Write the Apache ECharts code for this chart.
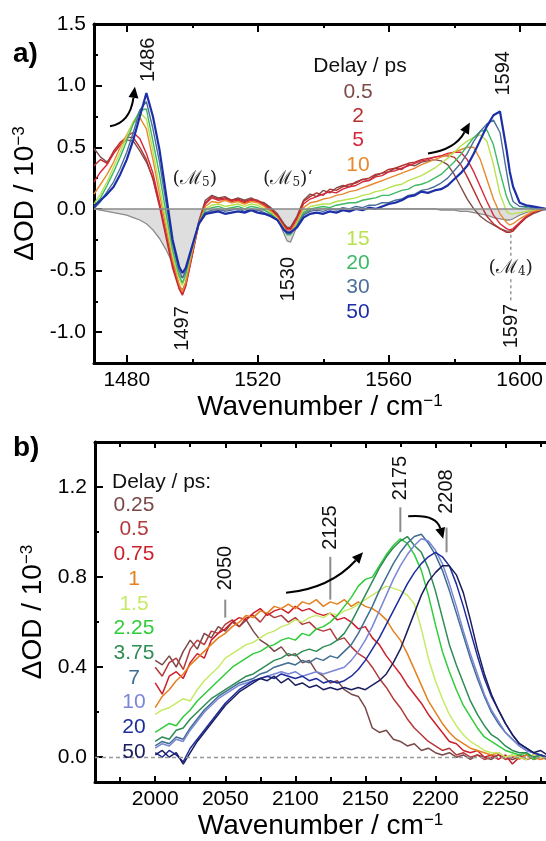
<!DOCTYPE html>
<html>
<head>
<meta charset="utf-8">
<script src="https://cdn.jsdelivr.net/npm/echarts@6.0.0/dist/echarts.min.js"></script>
<style>
html, body { margin: 0; padding: 0; background: #fff; }
#main { width: 546px; height: 841px; }
</style>
</head>
<body>
<div id="main"></div>
<script>
// ---------- panel a: 1470-1608 cm-1 ----------
var waveA = [1470,1472,1474,1476,1478,1480,1482,1484,1486,1488,
  1490,1492,1494,1496,1497,1498,1500,1502,1504,1506,
  1508,1510,1512,1514,1516,1518,1520,1522,1524,1526,
  1528,1529,1530,1532,1534,1536,1538,1540,1542,1544,
  1546,1548,1550,1552,1554,1556,1558,1560,1562,1564,
  1566,1568,1570,1572,1574,1576,1578,1580,1582,1584,
  1586,1588,1590,1592,1594,1596,1597,1598,1600,1602,
  1604,1606,1608];

var a05 = [0.49,0.42,0.38,0.45,0.52,0.56,0.55,0.47,0.38,0.25,
  0.04,-0.20,-0.45,-0.62,-0.66,-0.60,-0.36,-0.10,0.07,0.11,
  0.09,0.10,0.07,0.09,0.07,0.09,0.06,0.05,0.01,-0.04,
  -0.12,-0.15,-0.15,-0.06,0.07,0.12,0.10,0.15,0.13,0.17,
  0.19,0.18,0.22,0.24,0.23,0.27,0.29,0.30,0.33,0.32,
  0.36,0.35,0.38,0.39,0.40,0.39,0.36,0.28,0.18,0.08,
  0.00,-0.06,-0.10,-0.13,-0.16,-0.18,-0.18,-0.17,-0.12,-0.07,
  -0.04,-0.02,0.00];
var a2 = [0.35,0.40,0.37,0.47,0.54,0.58,0.58,0.50,0.40,0.24,
  0.02,-0.23,-0.48,-0.65,-0.70,-0.63,-0.38,-0.12,0.05,0.10,
  0.08,0.09,0.07,0.08,0.06,0.08,0.07,0.04,0.00,-0.05,
  -0.13,-0.16,-0.16,-0.07,0.06,0.10,0.13,0.11,0.16,0.15,
  0.18,0.20,0.21,0.24,0.25,0.28,0.29,0.32,0.33,0.35,
  0.37,0.38,0.40,0.41,0.42,0.43,0.43,0.42,0.36,0.26,
  0.15,0.04,-0.06,-0.12,-0.16,-0.19,-0.19,-0.18,-0.12,-0.07,
  -0.03,-0.01,0.00];
var a5 = [0.22,0.30,0.36,0.45,0.52,0.59,0.62,0.57,0.45,0.29,
  0.05,-0.20,-0.45,-0.64,-0.69,-0.62,-0.37,-0.12,0.04,0.09,
  0.07,0.08,0.06,0.07,0.05,0.07,0.06,0.03,-0.01,-0.06,
  -0.14,-0.17,-0.17,-0.08,0.04,0.08,0.10,0.12,0.14,0.13,
  0.16,0.18,0.19,0.22,0.23,0.26,0.27,0.30,0.31,0.33,
  0.35,0.37,0.39,0.40,0.42,0.43,0.45,0.46,0.46,0.40,
  0.30,0.18,0.06,-0.05,-0.12,-0.16,-0.17,-0.16,-0.11,-0.06,
  -0.03,-0.01,0.00];
var a10 = [0.12,0.20,0.28,0.38,0.50,0.60,0.70,0.74,0.65,0.40,
  0.12,-0.15,-0.41,-0.61,-0.67,-0.60,-0.35,-0.13,0.02,0.06,
  0.05,0.07,0.05,0.06,0.04,0.06,0.05,0.02,-0.02,-0.07,
  -0.15,-0.19,-0.19,-0.10,0.01,0.05,0.06,0.08,0.09,0.11,
  0.12,0.14,0.15,0.17,0.19,0.21,0.23,0.25,0.27,0.29,
  0.31,0.33,0.36,0.38,0.40,0.42,0.44,0.46,0.48,0.50,
  0.50,0.40,0.24,0.08,-0.04,-0.11,-0.13,-0.12,-0.08,-0.05,
  -0.02,-0.01,0.00];
var a15 = [0.04,0.12,0.22,0.34,0.46,0.59,0.71,0.78,0.73,0.47,
  0.18,-0.10,-0.37,-0.57,-0.62,-0.55,-0.32,-0.12,0.00,0.03,
  0.04,0.02,0.03,0.04,0.02,0.04,0.03,0.00,-0.03,-0.08,
  -0.16,-0.20,-0.20,-0.12,-0.02,0.02,0.03,0.04,0.04,0.06,
  0.07,0.08,0.09,0.11,0.12,0.14,0.15,0.17,0.19,0.20,
  0.23,0.25,0.27,0.30,0.33,0.37,0.41,0.46,0.51,0.55,
  0.58,0.60,0.55,0.36,0.12,-0.02,-0.04,-0.04,-0.03,-0.02,
  -0.01,0.00,0.00];
var a20 = [0.02,0.09,0.19,0.30,0.42,0.55,0.69,0.80,0.81,0.55,
  0.28,-0.03,-0.33,-0.54,-0.60,-0.53,-0.31,-0.12,-0.01,0.01,
  0.02,0.00,0.01,0.02,0.00,0.02,0.01,-0.01,-0.04,-0.09,
  -0.17,-0.21,-0.21,-0.13,-0.03,0.00,0.01,0.02,0.01,0.03,
  0.04,0.05,0.05,0.07,0.08,0.09,0.11,0.11,0.13,0.15,
  0.16,0.19,0.20,0.22,0.25,0.28,0.33,0.38,0.44,0.51,
  0.58,0.63,0.64,0.52,0.30,0.10,0.04,0.01,0.00,0.01,
  0.00,0.01,0.00];
var a30 = [0.00,0.06,0.14,0.22,0.33,0.46,0.62,0.80,0.87,0.65,
  0.38,0.05,-0.28,-0.50,-0.56,-0.50,-0.30,-0.12,-0.03,-0.01,
  0.00,-0.02,-0.01,0.00,-0.02,0.00,-0.01,-0.03,-0.05,-0.09,
  -0.17,-0.20,-0.20,-0.14,-0.05,-0.02,-0.01,-0.02,0.00,-0.01,
  0.01,0.00,0.02,0.01,0.03,0.03,0.05,0.05,0.07,0.08,
  0.11,0.12,0.15,0.16,0.18,0.21,0.25,0.31,0.37,0.45,
  0.55,0.63,0.69,0.72,0.62,0.30,0.15,0.06,0.02,0.02,
  0.01,0.00,-0.01];
var a50 = [0.02,0.07,0.12,0.18,0.28,0.40,0.56,0.75,0.94,0.75,
  0.48,0.12,-0.25,-0.47,-0.52,-0.48,-0.30,-0.12,-0.04,-0.03,
  -0.02,-0.04,-0.03,-0.02,-0.03,-0.01,-0.03,-0.04,-0.06,-0.09,
  -0.17,-0.19,-0.19,-0.15,-0.07,-0.04,-0.03,-0.04,-0.02,-0.03,
  -0.01,-0.02,0.00,-0.01,0.01,0.00,0.02,0.04,0.05,0.07,
  0.10,0.11,0.14,0.13,0.15,0.16,0.19,0.24,0.29,0.35,
  0.45,0.56,0.67,0.76,0.79,0.48,0.30,0.18,0.05,0.03,
  0.02,0.01,0.00];
// steady-state spectrum (inverted, grey)
var aFTIR = [0.00,-0.01,-0.02,-0.03,-0.04,-0.05,-0.07,-0.09,-0.12,-0.17,
  -0.24,-0.33,-0.44,-0.54,-0.56,-0.52,-0.33,-0.13,-0.05,-0.02,
  -0.01,-0.01,0.00,0.00,0.00,-0.01,-0.01,-0.01,-0.03,-0.08,
  -0.20,-0.26,-0.27,-0.14,-0.04,-0.01,0.00,0.00,0.00,0.00,
  0.00,0.00,0.00,0.00,0.00,0.00,0.00,0.00,0.00,0.00,
  0.00,0.00,0.00,0.00,0.00,-0.01,-0.01,-0.01,-0.02,-0.02,
  -0.03,-0.04,-0.05,-0.07,-0.08,-0.09,-0.09,-0.08,-0.05,-0.03,
  -0.01,0.00,0.00];

var delaysA = ['0.5', '2', '5', '10', '15', '20', '30', '50'];
var colorsA = ['#7d4b48', '#b3302e', '#d8263a', '#e8892e', '#b8e24e', '#3db865', '#4a6f98', '#1c2fa8'];

var xTicksA = [1480, 1520, 1560, 1600];
var xMinorA = [1500, 1540, 1580];
var yTicksA = [-1.0, -0.5, 0.0, 0.5, 1.0, 1.5];
var yMinorA = [-0.75, -0.25, 0.25, 0.75, 1.25];

// ---------- panel b: 2000-2280 cm-1 ----------
var waveB = [2000,2005,2010,2015,2020,2025,2030,2035,2040,2045,
  2050,2055,2060,2065,2070,2075,2080,2085,2090,2095,
  2100,2105,2110,2115,2120,2125,2130,2135,2140,2145,
  2150,2155,2160,2165,2170,2175,2180,2185,2190,2195,
  2200,2205,2210,2215,2220,2225,2230,2235,2240,2245,
  2250,2255,2260,2265,2270,2275,2280];

var b025 = [0.43,0.41,0.45,0.40,0.47,0.52,0.48,0.55,0.53,0.58,
  0.56,0.60,0.58,0.61,0.56,0.52,0.50,0.47,0.49,0.45,
  0.46,0.42,0.43,0.38,0.36,0.33,0.34,0.30,0.28,0.27,
  0.22,0.13,0.11,0.12,0.08,0.07,0.05,0.06,0.03,0.04,
  0.02,0.01,0.02,0.00,0.01,-0.01,0.01,0.00,-0.01,0.01,
  0.00,-0.01,0.00,0.01,-0.01,0.00,0.00];
var b05 = [0.40,0.36,0.42,0.44,0.39,0.48,0.52,0.50,0.56,0.55,
  0.59,0.61,0.58,0.62,0.63,0.60,0.64,0.62,0.63,0.60,
  0.62,0.59,0.60,0.57,0.56,0.57,0.52,0.53,0.49,0.46,
  0.44,0.40,0.35,0.31,0.26,0.22,0.17,0.13,0.10,0.07,
  0.05,0.03,0.04,0.01,0.02,0.00,0.01,-0.01,0.00,0.01,
  -0.01,0.00,0.01,-0.01,0.00,0.01,0.00];
var b075 = [0.33,0.28,0.36,0.38,0.35,0.42,0.46,0.44,0.52,0.55,
  0.57,0.60,0.62,0.61,0.64,0.66,0.63,0.65,0.66,0.64,
  0.67,0.65,0.66,0.64,0.63,0.64,0.61,0.62,0.60,0.57,
  0.58,0.53,0.50,0.45,0.41,0.37,0.32,0.28,0.24,0.19,
  0.15,0.11,0.07,0.06,0.03,0.02,0.03,0.00,0.01,-0.01,
  0.01,-0.03,0.00,-0.01,0.01,0.00,-0.01];
var b1 = [0.22,0.27,0.30,0.34,0.37,0.41,0.44,0.47,0.50,0.53,
  0.55,0.58,0.60,0.63,0.62,0.65,0.64,0.67,0.66,0.68,
  0.66,0.69,0.68,0.70,0.67,0.69,0.68,0.70,0.67,0.69,
  0.67,0.66,0.64,0.61,0.56,0.52,0.46,0.39,0.32,0.25,
  0.20,0.15,0.11,0.08,0.06,0.04,0.03,0.02,0.01,0.02,
  0.00,0.01,-0.01,0.01,0.00,-0.01,0.00];
var b15 = [0.19,0.21,0.22,0.24,0.26,0.25,0.30,0.34,0.37,0.40,
  0.44,0.46,0.48,0.50,0.51,0.53,0.55,0.56,0.58,0.59,
  0.61,0.60,0.62,0.63,0.62,0.64,0.63,0.65,0.66,0.68,
  0.70,0.72,0.74,0.76,0.75,0.74,0.72,0.68,0.57,0.44,
  0.34,0.26,0.19,0.14,0.10,0.07,0.05,0.03,0.02,0.02,
  0.00,0.01,0.00,-0.01,0.01,0.00,0.00];
var b225 = [0.11,0.13,0.15,0.14,0.18,0.21,0.25,0.28,0.31,0.34,
  0.37,0.40,0.42,0.44,0.46,0.47,0.49,0.50,0.52,0.53,
  0.52,0.55,0.54,0.57,0.58,0.60,0.63,0.67,0.71,0.76,
  0.79,0.80,0.85,0.90,0.94,0.97,0.95,0.90,0.83,0.72,
  0.59,0.47,0.38,0.30,0.23,0.18,0.13,0.09,0.07,0.05,
  0.03,0.02,0.01,0.02,-0.01,0.01,0.00];
var b375 = [0.07,0.09,0.08,0.12,0.13,0.17,0.20,0.23,0.26,0.28,
  0.30,0.32,0.34,0.36,0.37,0.39,0.41,0.43,0.44,0.46,
  0.45,0.47,0.48,0.47,0.49,0.50,0.52,0.55,0.60,0.66,
  0.72,0.78,0.84,0.89,0.93,0.96,0.98,0.94,0.91,0.84,
  0.74,0.62,0.50,0.41,0.33,0.25,0.19,0.14,0.10,0.08,
  0.05,0.03,0.02,0.02,0.00,0.01,-0.01];
var b7 = [0.05,0.07,0.06,0.09,0.08,0.13,0.17,0.21,0.24,0.27,
  0.29,0.31,0.33,0.34,0.35,0.37,0.38,0.40,0.41,0.42,
  0.41,0.43,0.42,0.44,0.43,0.45,0.44,0.47,0.50,0.55,
  0.61,0.67,0.74,0.80,0.86,0.91,0.95,0.98,0.99,0.95,
  0.90,0.83,0.74,0.64,0.54,0.44,0.35,0.27,0.20,0.15,
  0.11,0.08,0.05,0.03,0.02,0.01,0.00];
var b10 = [0.04,0.06,0.05,0.08,0.07,0.12,0.16,0.20,0.23,0.26,
  0.28,0.30,0.32,0.33,0.34,0.35,0.36,0.37,0.38,0.37,
  0.38,0.36,0.37,0.38,0.37,0.38,0.39,0.40,0.43,0.47,
  0.52,0.58,0.65,0.72,0.79,0.85,0.90,0.94,0.97,0.96,
  0.92,0.86,0.77,0.67,0.56,0.46,0.37,0.28,0.21,0.16,
  0.11,0.08,0.05,0.03,0.02,0.01,0.00];
var b20 = [0.02,0.00,0.03,0.01,-0.02,0.04,0.08,0.12,0.16,0.20,
  0.24,0.27,0.30,0.32,0.34,0.35,0.36,0.35,0.37,0.36,
  0.35,0.36,0.34,0.35,0.33,0.34,0.33,0.34,0.36,0.39,
  0.43,0.48,0.53,0.59,0.65,0.71,0.77,0.82,0.86,0.89,
  0.91,0.89,0.85,0.77,0.67,0.56,0.45,0.35,0.27,0.21,
  0.15,0.10,0.06,0.04,0.02,0.01,0.00];
var b50 = [0.01,0.03,0.00,0.02,-0.03,0.02,0.07,0.11,0.15,0.19,
  0.23,0.26,0.29,0.31,0.33,0.35,0.34,0.36,0.33,0.35,
  0.32,0.33,0.31,0.32,0.30,0.31,0.30,0.31,0.30,0.31,
  0.30,0.32,0.34,0.37,0.42,0.48,0.56,0.64,0.72,0.78,
  0.82,0.85,0.85,0.81,0.73,0.61,0.48,0.37,0.28,0.21,
  0.15,0.10,0.06,0.04,0.02,0.03,0.01];

var delaysB = ['0.25', '0.5', '0.75', '1', '1.5', '2.25', '3.75', '7', '10', '20', '50'];
var colorsB = ['#7a4848', '#b3393a', '#cc1f2b', '#e5801f', '#c6ea66', '#30cc3a', '#2e8c55', '#3f6e92', '#7a86d6', '#1d2c9c', '#1b1e5e'];

var xTicksB = [2000, 2050, 2100, 2150, 2200, 2250];
var xMinorB = [1975, 2025, 2075, 2125, 2175, 2225, 2275];
var yTicksB = [0.0, 0.4, 0.8, 1.2];
var yMinorB = [0.2, 0.6, 1.0];

// annotation anchors (data units)
var peakLabA = [[1486.5, 1.21, '1486'], [1497, -0.97, '1497'], [1529.5, -0.57, '1530'], [1595, 1.10, '1594'], [1597.5, -0.95, '1597']];
var peakLabB = [[2050, 0.84, '2050', 0.70, 0.62], [2125, 1.02, '2125', 0.89, 0.70], [2175, 1.24, '2175', 1.11, 1.00], [2208, 1.18, '2208', 1.02, 0.91]];

var FONT = '"Liberation Sans", Arial, sans-serif';
var chart = echarts.init(document.getElementById('main'));

var rectA = { left: 94, top: 24, width: 452, height: 339 };
var rectB = { left: 95, top: 442, width: 451, height: 340 };

function xAxis(grid, pos, min, max, ticks, len, withLine, withLabels, name) {
  return {
    type: 'value', gridIndex: grid, position: pos, min: min, max: max,
    splitLine: { show: false },
    axisLine: { show: withLine, onZero: false, lineStyle: { color: '#000', width: 3 } },
    axisTick: { show: true, inside: true, length: len, customValues: ticks, lineStyle: { color: '#000', width: 2 } },
    axisLabel: { show: withLabels, customValues: ticks, margin: 7, color: '#000', fontSize: 21, fontFamily: FONT,
      formatter: function (v) { return String(v); } },
    name: name || '', nameLocation: 'middle', nameGap: 30,
    nameTextStyle: { color: '#000', fontSize: 28, fontFamily: FONT,
      rich: { sup: { fontSize: 17, lineHeight: 17, verticalAlign: 'top', fontFamily: FONT, color: '#000' } } }
  };
}
function yAxis(grid, min, max, ticks, len, withLine, withLabels, name) {
  return {
    type: 'value', gridIndex: grid, position: 'left', min: min, max: max,
    splitLine: { show: false },
    axisLine: { show: withLine, onZero: false, lineStyle: { color: '#000', width: 3 } },
    axisTick: { show: true, inside: true, length: len, customValues: ticks, lineStyle: { color: '#000', width: 2 } },
    axisLabel: { show: withLabels, customValues: ticks, margin: 8, color: '#000', fontSize: 21, fontFamily: FONT,
      formatter: function (v) { return v.toFixed(1); } },
    name: name || '', nameLocation: 'middle', nameGap: 42,
    nameTextStyle: { color: '#000', fontSize: 28, fontFamily: FONT,
      rich: { sup: { fontSize: 17, lineHeight: 17, verticalAlign: 'top', fontFamily: FONT, color: '#000' } } }
  };
}

var series = [];
series.push({
  type: 'line', xAxisIndex: 0, yAxisIndex: 0, showSymbol: false, silent: true,
  data: waveA.map(function (w, i) { return [w, aFTIR[i]]; }),
  lineStyle: { color: '#8a8a8a', width: 1.3 },
  areaStyle: { color: '#dedede', opacity: 1, origin: 'auto' },
  markLine: { silent: true, symbol: 'none', label: { show: false },
    lineStyle: { color: '#8a8a8a', type: 'solid', width: 1.5 }, data: [{ yAxis: 0 }] }
});
[a05, a2, a5, a10, a15, a20, a30, a50].forEach(function (arr, k) {
  series.push({
    type: 'line', xAxisIndex: 0, yAxisIndex: 0, showSymbol: false, silent: true,
    data: waveA.map(function (w, i) { return [w, arr[i]]; }),
    lineStyle: { color: colorsA[k], width: k === 7 ? 2.2 : 1.4 }
  });
});
[b025, b05, b075, b1, b15, b225, b375, b7, b10, b20, b50].forEach(function (arr, k) {
  var s = {
    type: 'line', xAxisIndex: 4, yAxisIndex: 2, showSymbol: false, silent: true,
    data: waveB.map(function (w, i) { return [w, arr[i]]; }),
    lineStyle: { color: colorsB[k], width: 1.5 }
  };
  if (k === 0) {
    s.markLine = { silent: true, symbol: 'none', label: { show: false },
      lineStyle: { color: '#999', type: [4, 3], width: 1.3 }, data: [{ yAxis: 0 }] };
  }
  series.push(s);
});

chart.setOption({
  animation: false,
  backgroundColor: '#fff',
  grid: [
    Object.assign({}, rectA), Object.assign({}, rectA),
    Object.assign({}, rectB), Object.assign({}, rectB)
  ],
  xAxis: [
    xAxis(0, 'bottom', 1470, 1608, xTicksA, 8, true, true, 'Wavenumber / cm{sup|\u22121}'),
    xAxis(0, 'top', 1470, 1608, xTicksA, 8, true, false),
    xAxis(1, 'bottom', 1470, 1608, xMinorA, 4, false, false),
    xAxis(1, 'top', 1470, 1608, xMinorA, 4, false, false),
    xAxis(2, 'bottom', 1957, 2279, xTicksB, 6, true, true, 'Wavenumber / cm{sup|\u22121}'),
    xAxis(2, 'top', 1957, 2279, xTicksB, 6, true, false),
    xAxis(3, 'bottom', 1957, 2279, xMinorB, 5, false, false),
    xAxis(3, 'top', 1957, 2279, xMinorB, 5, false, false)
  ],
  yAxis: [
    yAxis(0, -1.25, 1.5, yTicksA, 8, true, true, '\u0394OD / 10{sup|\u22123}'),
    yAxis(1, -1.25, 1.5, yMinorA, 4, false, false),
    yAxis(2, -0.11, 1.4, yTicksB, 8, true, true, '\u0394OD / 10{sup|\u22123}'),
    yAxis(3, -0.11, 1.4, yMinorB, 4, false, false)
  ],
  series: series
});

// ---------- annotations ----------
function P(g, x, y) { return chart.convertToPixel({ gridIndex: g }, [x, y]); }
var gr = [];
function text(x, y, str, size, color, opt) {
  var el = { type: 'text', x: x, y: y, z: 50,
    style: { text: str, fontSize: size, fontFamily: FONT, fill: color, align: 'center', verticalAlign: 'middle' } };
  if (opt) { for (var k in opt) { if (k === 'style') Object.assign(el.style, opt.style); else el[k] = opt[k]; } }
  gr.push(el);
}
function vtext(pt, str) { text(pt[0], pt[1], str, 20, '#111', { rotation: Math.PI / 2 }); }
function seg(p, q, color, w, dash) {
  gr.push({ type: 'line', z: 49, shape: { x1: p[0], y1: p[1], x2: q[0], y2: q[1] },
    style: { stroke: color, lineWidth: w, lineDash: dash || null } });
}
function arrow(p0, c, p1) {
  var dx = p1[0] - c[0], dy = p1[1] - c[1], L = Math.sqrt(dx * dx + dy * dy);
  dx /= L; dy /= L;
  var len = 11, wid = 5;
  var bx = p1[0] - dx * len, by = p1[1] - dy * len;
  gr.push({ type: 'bezierCurve', z: 50, shape: { x1: p0[0], y1: p0[1], cpx1: c[0], cpy1: c[1], x2: bx, y2: by },
    style: { stroke: '#000', lineWidth: 2, fill: null } });
  gr.push({ type: 'polygon', z: 50, shape: { points: [[p1[0], p1[1]], [bx - dy * wid, by + dx * wid], [bx + dy * wid, by - dx * wid]] },
    style: { fill: '#000' } });
}

// panel labels
text(13, 54, 'a)', 28, '#000', { style: { fontWeight: 'bold', align: 'left' } });
text(13, 448, 'b)', 28, '#000', { style: { fontWeight: 'bold', align: 'left' } });

// panel a
peakLabA.forEach(function (d) { vtext(P(0, d[0], d[1]), d[2]); });
var mStyle = { fontFamily: '"DejaVu Serif", serif', rich: {
  s: { fontSize: 12, lineHeight: 12, verticalAlign: 'bottom', fontFamily: '"DejaVu Serif", serif', fill: '#222' },
  q: { fontSize: 16, lineHeight: 14, verticalAlign: 'top', fontFamily: '"DejaVu Serif", serif', fill: '#222' } } };
var m5 = P(0, 1500.8, 0.24), m5b = P(0, 1529.2, 0.24), m4 = P(0, 1597.3, -0.48);
text(m5[0], m5[1], '(\u2133{s|5})', 19, '#222', { style: mStyle });
text(m5b[0], m5b[1], '(\u2133{s|5}){q|\u2018}', 19, '#222', { style: mStyle });
text(m4[0], m4[1], '(\u2133{s|4})', 19, '#222', { style: mStyle });
seg(P(0, 1597.3, -0.21), P(0, 1597.3, -0.39), '#999', 1.5, [3, 3]);
seg(P(0, 1597.3, -0.57), P(0, 1597.3, -0.76), '#999', 1.5, [3, 3]);
arrow(P(0, 1474.9, 0.67), P(0, 1481.0, 0.70), P(0, 1482.5, 0.99));
arrow(P(0, 1572.0, 0.45), P(0, 1580.2, 0.48), P(0, 1584.8, 0.70));

text(360, 66, 'Delay / ps', 21, '#111');
var legYA = [92, 116, 140, 165, 239, 263, 287, 312];
delaysA.forEach(function (d, k) { text(358, legYA[k], d, 21, colorsA[k]); });

// panel b
peakLabB.forEach(function (d) {
  vtext(P(2, d[0], d[1]), d[2]);
  seg(P(2, d[0], d[3]), P(2, d[0], d[4]), '#8c8c8c', 2);
});
arrow(P(2, 2093.4, 0.73), P(2, 2124.9, 0.75), P(2, 2148.4, 0.91));
arrow(P(2, 2180.6, 1.07), P(2, 2200.6, 1.08), P(2, 2205.6, 0.97));

text(112, 482, 'Delay / ps:', 21, '#111', { style: { align: 'left' } });
delaysB.forEach(function (d, k) { text(134, 505 + k * 24.7, d, 21, colorsB[k]); });

chart.setOption({ graphic: gr });
</script>
</body>
</html>
